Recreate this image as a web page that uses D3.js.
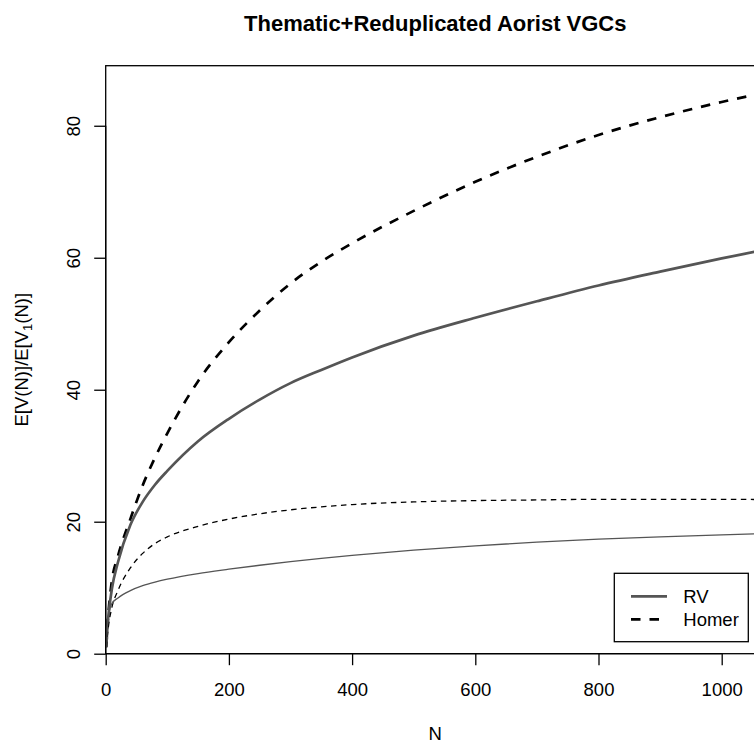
<!DOCTYPE html>
<html>
<head>
<meta charset="utf-8">
<script src="https://cdn.jsdelivr.net/npm/d3@7"></script>
<style>
  html, body { margin: 0; padding: 0; background: #fff; }
  svg { display: block; font-family: "Liberation Sans", Arial, Helvetica, sans-serif; }
</style>
</head>
<body>
<svg id="chart" width="754" height="746"></svg>
<script>
// ---- data ----
const N = [1, 3, 5, 10, 20, 40, 60, 80, 100, 150, 200, 250, 300, 350, 400, 500, 600, 700, 800, 900, 1000, 1070];
const homerUpper = [1, 4.5, 6.8, 11.0, 14.8, 20.4, 25.5, 29.7, 33.4, 41.3, 47.2, 52.0, 56.1, 59.4, 62.2, 67.1, 71.5, 75.3, 78.6, 81.3, 83.6, 85.0];
const rvUpper = [1, 4.3, 6.3, 9.8, 13.9, 19.5, 23.0, 25.6, 27.7, 32.2, 35.6, 38.5, 41.0, 43.0, 44.9, 48.2, 50.9, 53.4, 55.8, 57.9, 59.9, 61.2];
const homerLower = [1, 3.0, 4.5, 7.0, 9.6, 13.0, 15.2, 16.7, 17.7, 19.3, 20.4, 21.2, 21.8, 22.25, 22.6, 23.0, 23.2, 23.3, 23.4, 23.4, 23.4, 23.35];
const rvLower = [1, 4.3, 6.0, 7.6, 8.45, 9.55, 10.3, 10.85, 11.3, 12.15, 12.8, 13.4, 13.95, 14.45, 14.9, 15.7, 16.35, 16.9, 17.35, 17.7, 18.0, 18.2];
const xTicks = [0, 200, 400, 600, 800, 1000];
const yTicks = [0, 20, 40, 60, 80];
const legendLabels = ["RV", "Homer"];
const title = "Thematic+Reduplicated Aorist VGCs";
const xLabel = "N";

(function () {
// ---- layout ----
const svg = d3.select("#chart");
const pLeft = 105.7, pTop = 65.7, pBottom = 653.7;
const x = d3.scaleLinear().domain([0, 1070]).range([pLeft, pLeft + 1070 * 0.616]);
const y = d3.scaleLinear().domain([0, 89.1]).range([pBottom, pTop]);
const pRight = x.range()[1];
const fs = 18.5;

svg.append("rect").attr("width", 754).attr("height", 746).attr("fill", "#fff");

svg.append("defs").append("clipPath").attr("id", "plotclip")
  .append("rect").attr("x", pLeft).attr("y", pTop)
  .attr("width", pRight - pLeft).attr("height", pBottom - pTop);

// box
svg.append("rect").attr("x", pLeft).attr("y", pTop)
  .attr("width", pRight - pLeft).attr("height", pBottom - pTop)
  .attr("fill", "none").attr("stroke", "#000").attr("stroke-width", 1.3);

// series
const series = [
  { vals: homerUpper, color: "#000", width: 2.7, dash: "9.5,9" },
  { vals: rvUpper, color: "#555", width: 2.7, dash: null },
  { vals: homerLower, color: "#000", width: 1.3, dash: "5.5,4.5" },
  { vals: rvLower, color: "#555", width: 1.3, dash: null }
];
const line = d3.line().x(d => x(d[0])).y(d => y(d[1])).curve(d3.curveMonotoneX);
const g = svg.append("g").attr("clip-path", "url(#plotclip)");
series.forEach(s => {
  g.append("path")
    .datum(N.map((n, i) => [n, s.vals[i]]))
    .attr("d", line)
    .attr("fill", "none")
    .attr("stroke", s.color)
    .attr("stroke-width", s.width)
    .attr("stroke-dasharray", s.dash);
});

// x axis
const xAxis = d3.axisBottom(x).tickValues(xTicks).tickSize(11.5).tickPadding(0).tickFormat(d3.format("d"));
const gx = svg.append("g").attr("transform", `translate(0,${pBottom})`).call(xAxis);
gx.select(".domain").remove();
gx.append("line").attr("x1", x(0)).attr("x2", x(1000)).attr("stroke", "#000").attr("stroke-width", 1.3);
gx.selectAll(".tick line").attr("stroke", "#000").attr("stroke-width", 1.3);
gx.selectAll(".tick text").attr("font-size", fs).attr("fill", "#000")
  .attr("font-family", "Liberation Sans, Arial, sans-serif")
  .attr("dy", null).attr("y", 42);

// y axis
const yAxis = d3.axisLeft(y).tickValues(yTicks).tickSize(11.5).tickFormat(d3.format("d"));
const gy = svg.append("g").attr("transform", `translate(${pLeft},0)`).call(yAxis);
gy.select(".domain").remove();
gy.append("line").attr("y1", y(0)).attr("y2", y(80)).attr("stroke", "#000").attr("stroke-width", 1.3);
gy.selectAll(".tick line").attr("stroke", "#000").attr("stroke-width", 1.3);
gy.selectAll(".tick text").attr("font-size", fs).attr("fill", "#000")
  .attr("font-family", "Liberation Sans, Arial, sans-serif")
  .attr("x", null).attr("dy", null)
  .attr("text-anchor", "middle")
  .attr("transform", "translate(-25.7,0) rotate(-90)");

// title
svg.append("text").attr("x", (pLeft + pRight) / 2).attr("y", 31)
  .attr("text-anchor", "middle").attr("font-weight", "bold").attr("font-size", 22)
  .text(title);

// x label
svg.append("text").attr("x", (pLeft + pRight) / 2).attr("y", 740)
  .attr("text-anchor", "middle").attr("font-size", fs).text(xLabel);

// y label with subscript
const yl = svg.append("text")
  .attr("transform", `translate(28.4,${(pTop + pBottom) / 2}) rotate(-90)`)
  .attr("text-anchor", "middle").attr("font-size", fs);
yl.append("tspan").text("E[V(N)]/E[V");
yl.append("tspan").attr("font-size", fs * 0.7).attr("dy", 4).text("1");
yl.append("tspan").attr("dy", -4).text("(N)]");

// legend
const lg = svg.append("g");
lg.append("rect").attr("x", 614.3).attr("y", 573.3).attr("width", 134).attr("height", 68.4)
  .attr("fill", "#fff").attr("stroke", "#000").attr("stroke-width", 1.3);
const legendStyles = [
  { color: "#555", dash: null },
  { color: "#000", dash: "9.5,9" }
];
legendLabels.forEach((lab, i) => {
  const ly = 596.3 + i * 23;
  lg.append("line").attr("x1", 631).attr("x2", 667).attr("y1", ly).attr("y2", ly)
    .attr("stroke", legendStyles[i].color).attr("stroke-width", 2.7)
    .attr("stroke-dasharray", legendStyles[i].dash);
  lg.append("text").attr("x", 683.3).attr("y", ly + 7).attr("font-size", fs).text(lab);
});
})();
</script>
</body>
</html>
